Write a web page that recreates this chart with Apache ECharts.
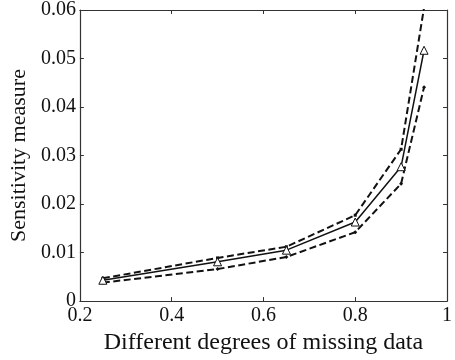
<!DOCTYPE html>
<html><head><meta charset="utf-8">
<script src="https://cdn.jsdelivr.net/npm/echarts@6/dist/echarts.min.js"></script>
<style>html,body{margin:0;padding:0;background:#fff}#c{width:455px;height:360px}</style>
</head><body><div id="c"></div>
<script>
const xValues = [0.25, 0.5, 0.65, 0.8, 0.9, 0.95];
const meanValues = [0.0043, 0.0081, 0.0105, 0.0163, 0.0277, 0.0517];
const upperValues = [0.0047, 0.0089, 0.0112, 0.0177, 0.0313, 0.0605];
const lowerValues = [0.0038, 0.0066, 0.0091, 0.0142, 0.0242, 0.0441];
const xTicks = [0.2, 0.4, 0.6, 0.8, 1];
const yTicks = [0, 0.01, 0.02, 0.03, 0.04, 0.05, 0.06];
const xTitle = 'Different degrees of missing data';
const yTitle = 'Sensitivity measure';

const pair = arr => xValues.map((x, i) => [x, arr[i]]);
const fmt = v => String(+v.toFixed(4));
const font = 'Liberation Serif';
const axCol = '#333';
const chart = echarts.init(document.getElementById('c'), null, {renderer: 'canvas'});
const baseX = {type: 'value', min: xTicks[0], max: xTicks[xTicks.length - 1], interval: 0.2,
  axisLine: {show: true, onZero: false, lineStyle: {color: axCol, width: 1.2}},
  axisTick: {show: true, inside: true, length: 4, lineStyle: {color: axCol}},
  splitLine: {show: false}};
const baseY = {type: 'value', min: yTicks[0], max: yTicks[yTicks.length - 1], interval: 0.01,
  axisLine: {show: true, onZero: false, lineStyle: {color: axCol, width: 1.2}},
  axisTick: {show: true, inside: true, length: 4, lineStyle: {color: axCol}},
  splitLine: {show: false}};
chart.setOption({
  animation: false,
  grid: {left: 75, right: 2, top: 7, bottom: 58},
  xAxis: [
    Object.assign({}, baseX, {position: 'bottom', name: xTitle, nameLocation: 'middle', nameGap: 27,
      nameTextStyle: {fontFamily: font, fontSize: 24, color: '#111'},
      axisLabel: {fontFamily: font, fontSize: 20, color: '#111', margin: 5, formatter: fmt}}),
    Object.assign({}, baseX, {position: 'top', axisLabel: {show: false}})
  ],
  yAxis: [
    Object.assign({}, baseY, {position: 'left', name: yTitle, nameLocation: 'middle', nameGap: 46,
      nameTextStyle: {fontFamily: font, fontSize: 22, color: '#111'},
      axisLabel: {fontFamily: font, fontSize: 20, color: '#111', margin: 4, formatter: fmt}}),
    Object.assign({}, baseY, {position: 'right', axisLabel: {show: false}})
  ],
  series: [
    {type: 'line', data: pair(upperValues), symbol: 'rect', symbolSize: 3, clip: true,
      lineStyle: {color: '#111', width: 2, type: [7, 3.5]}, itemStyle: {color: '#111'}},
    {type: 'line', data: pair(lowerValues), symbol: 'diamond', symbolSize: 4, clip: true,
      lineStyle: {color: '#111', width: 2, type: [7, 3.5]}, itemStyle: {color: '#111'}},
    {type: 'line', data: pair(meanValues), symbol: 'triangle', symbolSize: 8, clip: true,
      lineStyle: {color: '#111', width: 1.5}, itemStyle: {color: '#fff', borderColor: '#111', borderWidth: 1}}
  ]
});
</script></body></html>
